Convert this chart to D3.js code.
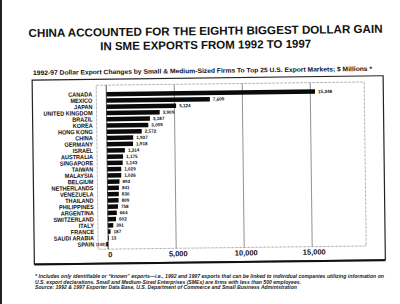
<!DOCTYPE html>
<html>
<head>
<meta charset="utf-8">
<script src="https://cdn.jsdelivr.net/npm/d3@7"></script>
<style>
  body { margin: 0; background: #fff; }
  svg { font-family: "Liberation Sans", Arial, sans-serif; }
</style>
</head>
<body>
<svg id="chart" width="400" height="304"></svg>
<script>
// top 25 markets, $ millions change 1992-97
var countries = ["CANADA", "MEXICO", "JAPAN", "UNITED KINGDOM", "BRAZIL", "KOREA", "HONG KONG",
  "CHINA", "GERMANY", "ISRAEL", "AUSTRALIA", "SINGAPORE", "TAIWAN", "MALAYSIA", "BELGIUM",
  "NETHERLANDS", "VENEZUELA", "THAILAND", "PHILIPPINES", "ARGENTINA", "SWITZERLAND", "ITALY",
  "FRANCE", "SAUDI ARABIA", "SPAIN"];
var changes = [15348, 7609, 5124, 3909, 3187, 3059, 2572, 1937, 1918, 1314, 1175, 1143, 1029,
  1026, 892, 841, 830, 809, 758, 664, 602, 391, 187, 13, -142];
var xTicks = [0, 5000, 10000, 15000];

var titleLines = ["CHINA ACCOUNTED FOR THE EIGHTH BIGGEST DOLLAR GAIN",
  "IN SME EXPORTS FROM 1992 TO 1997"];
var subtitle = "1992-97 Dollar Export Changes by Small & Medium-Sized Firms To Top 25 U.S. Export Markets; $ Millions *";
var notes = [
  "* Includes only identifiable or \u201cknown\u201d exports\u2014i.e., 1992 and 1997 exports that can be linked to individual companies utilizing information on",
  "U.S. export declarations.  Small and Medium-Sized Enterprises (SMEs) are firms with less than 500 employees.",
  "Source:  1992 & 1997 Exporter Data Base, U.S. Department of Commerce and Small Business Administration"
];

var svg = d3.select("#chart");
svg.append("rect").attr("x", 0).attr("y", 0).attr("width", 2).attr("height", 304).attr("fill", "#222");

// scanned page is a little tilted
var page = svg.append("g").attr("transform", "rotate(-0.7,200,150)");

page.selectAll(".title")
  .data(titleLines)
  .enter()
  .append("text")
  .attr("x", 207)
  .attr("y", (d, i) => 35 + i * 14)
  .attr("text-anchor", "middle")
  .attr("font-size", 11.5)
  .attr("font-weight", "bold")
  .attr("fill", "#111")
  .attr("textLength", (d, i) => i == 0 ? 354 : 211)
  .attr("lengthAdjust", "spacingAndGlyphs")
  .text(d => d);

page.append("text")
  .attr("x", 34)
  .attr("y", 73)
  .attr("font-size", 6.5)
  .attr("font-weight", "bold")
  .attr("fill", "#111")
  .attr("textLength", 339)
  .attr("lengthAdjust", "spacingAndGlyphs")
  .text(subtitle);

// outer frame
page.append("rect")
  .attr("x", 33).attr("y", 78)
  .attr("width", 351).attr("height", 184)
  .attr("fill", "none")
  .attr("stroke", "#222")
  .attr("stroke-width", 1.2);
page.append("line")
  .attr("x1", 33).attr("x2", 384).attr("y1", 262.5).attr("y2", 262.5)
  .attr("stroke", "#111").attr("stroke-width", 2);

var x = d3.scaleLinear().domain([0, 15000]).range([107, 311]);
var y = d3.scaleBand().domain(countries).range([89, 247]).padding(0.28);

// inner plot frame (faint, dashed)
page.append("rect")
  .attr("x", 97).attr("y", 84)
  .attr("width", 268).attr("height", 164)
  .attr("fill", "none")
  .attr("stroke", "#999")
  .attr("stroke-width", 0.7)
  .attr("stroke-dasharray", "3,1");

page.selectAll(".grid")
  .data(xTicks.slice(1))
  .enter()
  .append("line")
  .attr("x1", d => x(d)).attr("x2", d => x(d))
  .attr("y1", 84).attr("y2", 248)
  .attr("stroke", "#777")
  .attr("stroke-width", 0.8);

page.selectAll(".bar")
  .data(changes)
  .enter()
  .append("rect")
  .attr("x", d => x(Math.min(0, d)))
  .attr("y", (d, i) => y(countries[i]))
  .attr("width", d => Math.max(0.8, Math.abs(x(d) - x(0))))
  .attr("height", y.bandwidth())
  .attr("fill", "#0a0a0a");

page.append("line")
  .attr("x1", x(0)).attr("x2", x(0))
  .attr("y1", 84).attr("y2", 248)
  .attr("stroke", "#222")
  .attr("stroke-width", 0.8);

page.selectAll(".vlab")
  .data(changes)
  .enter()
  .append("text")
  .attr("x", d => d < 0 ? x(d) - 0.5 : x(d) + 3)
  .attr("y", (d, i) => y(countries[i]) + y.bandwidth() / 2 + 1.6)
  .attr("text-anchor", d => d < 0 ? "end" : "start")
  .attr("font-size", d => d < 0 ? 4.2 : 4.6)
  .attr("font-weight", "bold")
  .attr("fill", "#111")
  .text(d => d < 0 ? "(" + d3.format(",")(-d) + ")" : d3.format(",")(d));

page.selectAll(".clab")
  .data(countries)
  .enter()
  .append("text")
  .attr("x", 93)
  .attr("y", d => y(d) + y.bandwidth() / 2 + 2.2)
  .attr("text-anchor", "end")
  .attr("font-size", 6.2)
  .attr("font-weight", "bold")
  .attr("fill", "#111")
  .attr("transform", "translate(93,0) scale(0.9,1) translate(-93,0)")
  .text(d => d);

page.selectAll(".tick")
  .data(xTicks)
  .enter()
  .append("text")
  .attr("x", d => x(d) + 2)
  .attr("y", 256)
  .attr("text-anchor", "middle")
  .attr("font-size", 7.5)
  .attr("font-weight", "bold")
  .attr("fill", "#111")
  .text(d => d3.format(",")(d));

// footnotes kept level so the lines don't run into each other
svg.selectAll(".note")
  .data(notes)
  .enter()
  .append("text")
  .attr("x", 35)
  .attr("y", (d, i) => 278 + i * 5.5)
  .attr("font-size", 4.5)
  .attr("font-weight", "bold")
  .attr("font-style", "italic")
  .attr("fill", "#222")
  .attr("textLength", (d, i) => [349, 266, 262][i])
  .attr("lengthAdjust", "spacingAndGlyphs")
  .text(d => d);
</script>
</body>
</html>
